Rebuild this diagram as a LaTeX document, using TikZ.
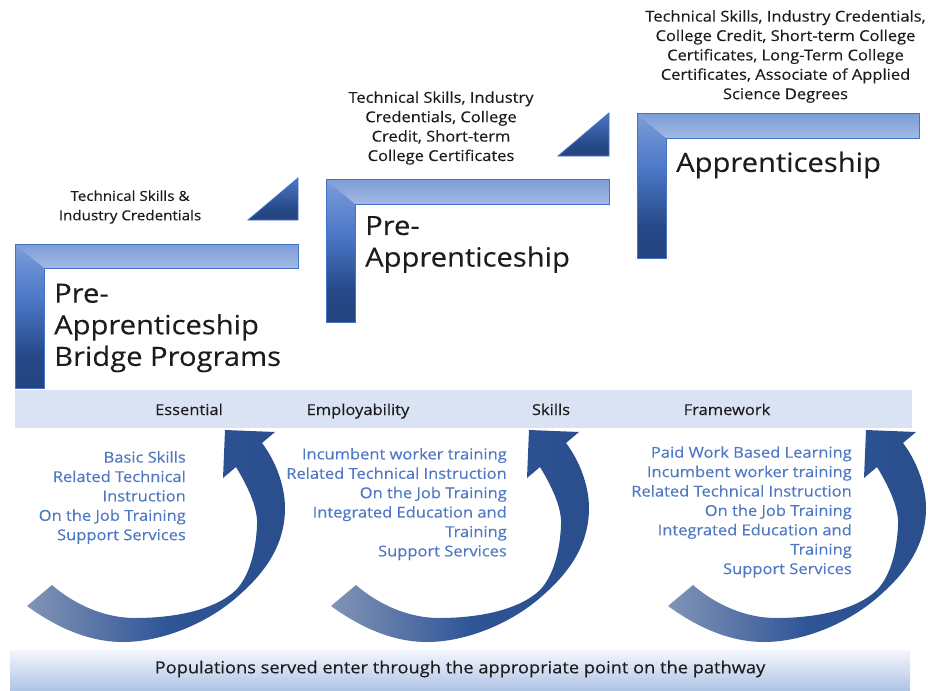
\documentclass[tikz,border=0pt]{standalone}
\usepackage{fontspec}
\setmainfont[FakeStretch=1.1,FakeBold=0.2]{Open Sans}
\definecolor{edgeblue}{HTML}{4472C4}
\definecolor{textblue}{HTML}{4F78C4}
\definecolor{ink}{HTML}{1C1C1C}
\definecolor{stripblue}{HTML}{D9E3F3}
\definecolor{atail}{HTML}{8294B6}
\definecolor{amid}{HTML}{2F5597}
\definecolor{ahead}{HTML}{2A4E8C}
\definecolor{legdark}{HTML}{24447F}
\definecolor{legmid}{HTML}{264887}
\definecolor{leglight}{HTML}{4C78C8}
\definecolor{legtop}{HTML}{7C9DD8}
\definecolor{barlight}{HTML}{A3BAE4}
\definecolor{bartop}{HTML}{7C9DD8}
\definecolor{baselow}{HTML}{B0C4E6}
\definecolor{basetop}{HTML}{F4F7FC}
\pgfdeclarehorizontalshading{arrowshade}{100bp}{
  color(0bp)=(atail);
  color(25bp)=(atail);
  color(52bp)=(amid);
  color(75bp)=(ahead);
  color(100bp)=(ahead)}
\pgfdeclareverticalshading{wedgeshade}{100bp}{
  color(0bp)=(legdark);
  color(25bp)=(legdark);
  color(38bp)=(legmid);
  color(75bp)=(leglight);
  color(100bp)=(leglight)}
\pgfdeclareverticalshading{legshade}{100bp}{
  color(0bp)=(legdark);
  color(25bp)=(legdark);
  color(36bp)=(legmid);
  color(56bp)=(leglight);
  color(75bp)=(legtop);
  color(100bp)=(legtop)}
\pgfdeclareverticalshading{barshade}{100bp}{
  color(0bp)=(barlight);
  color(25bp)=(barlight);
  color(75bp)=(bartop);
  color(100bp)=(bartop)}
\pgfdeclareverticalshading{baseshade}{100bp}{
  color(0bp)=(baselow);
  color(25bp)=(baselow);
  color(75bp)=(basetop);
  color(100bp)=(basetop)}
\tikzset{
  x=1pt,y=-1pt,
  legpart/.style={shading=legshade},
  barpart/.style={shading=barshade},
  stepedge/.style={draw=edgeblue,line width=1pt},
  wedge/.style={shading=wedgeshade,draw=edgeblue,line width=0.8pt},
  curvearrow/.style={shading=arrowshade},
  smalltext/.style={text=ink,font=\fontsize{15}{19.4}\selectfont,align=center,inner sep=0pt},
  bluetext/.style={text=textblue,font=\fontsize{15}{19.4}\selectfont,align=right,inner sep=0pt,anchor=east},
  bigtext/.style={text=ink,font=\fontsize{26.5}{31.6}\selectfont,align=left,inner sep=0pt,anchor=west},
  stripword/.style={text=ink,font=\fontsize{15}{18}\selectfont,inner sep=0pt,anchor=base},
}
\newcommand{\stepL}[5]{%
  \shade[barpart] (#1,#2) -- (#3,#2) -- (#3,#4) -- (#1+29,#4) -- cycle;
  \shade[legpart] (#1,#2) -- (#1+29,#4) -- (#1+29,#5) -- (#1,#5) -- cycle;
  \draw[stepedge] (#1,#2) -- (#3,#2) -- (#3,#4) -- (#1+29,#4) -- (#1+29,#5) -- (#1,#5) -- cycle;
}
\newcommand{\curvedArrow}[1]{%
  \begin{scope}[xshift=#1pt]
  \shade[curvearrow] (27,606) .. controls (60,630) and (92,642) .. (123,642)
    .. controls (160,642) and (205,625) .. (237,597)
    .. controls (265,573) and (285,545) .. (285,508)
    .. controls (285,485) and (275,460) .. (262,443)
    -- (275,432) -- (225,430) -- (223,478) -- (236,467)
    .. controls (250,490) and (258,510) .. (257,525)
    .. controls (256,550) and (250,575) .. (236,590)
    .. controls (215,610) and (175,618) .. (135,618)
    .. controls (105,618) and (75,605) .. (52,585) -- cycle;
  \end{scope}
}
\begin{document}
\begin{tikzpicture}
\useasboundingbox (0,0) rectangle (928,690);
\fill[white] (0,0) rectangle (928,690);
% strips
\fill[stripblue] (15,390) rectangle (912,428);
\shade[shading=baseshade] (10,650) rectangle (910,690);
% steps
\stepL{15}{244}{298}{268}{388}
\stepL{326}{179}{609}{204}{322}
\stepL{637}{114}{919}{138}{258}
% wedges
\shade[wedge] (248,220) -- (298,178) -- (298,220) -- cycle;
\shade[wedge] (558,156) -- (609,113) -- (609,156) -- cycle;
% arrows
\curvedArrow{0}
\curvedArrow{304}
\curvedArrow{641}
% top labels
\node[smalltext,font=\fontsize{13.8}{19.4}\selectfont] (t1) at (130,207) {Technical Skills \&\\Industry Credentials};
\node[smalltext] (t2) at (441,128) {Technical Skills, Industry\\Credentials, College\\Credit, Short-term\\College Certificates};
\node[smalltext] (t3) at (785.5,56.5) {Technical Skills, Industry Credentials,\\College Credit, Short-term College\\Certificates, Long-Term College\\Certificates, Associate of Applied\\Science Degrees};
% big labels
\node[bigtext] (b1) at (54,328) {Pre-\\Apprenticeship\\Bridge Programs};
\node[bigtext] (b2) at (365,244.5) {Pre-\\Apprenticeship};
\node[bigtext] (b3) at (676,165) {Apprenticeship};
% strip words
\node[stripword] (w1) at (189,415) {Essential};
\node[stripword] (w2) at (358,415) {Employability};
\node[stripword] (w3) at (551,415) {Skills};
\node[stripword] (w4) at (727,415) {Framework};
% blue lists
\node[bluetext] (l1) at (186,497.5) {Basic Skills\\Related Technical\\Instruction\\On the Job Training\\Support Services};
\node[bluetext] (l2) at (507,504) {Incumbent worker training\\Related Technical Instruction\\On the Job Training\\Integrated Education and\\Training\\Support Services};
\node[bluetext] (l3) at (852,512) {Paid Work Based Learning\\Incumbent worker training\\Related Technical Instruction\\On the Job Training\\Integrated Education and\\Training\\Support Services};
% base text
\node[text=ink,font=\fontsize{16.6}{20}\selectfont,inner sep=0pt] (p) at (460,669) {Populations served enter through the appropriate point on the pathway};
\end{tikzpicture}
\end{document}
